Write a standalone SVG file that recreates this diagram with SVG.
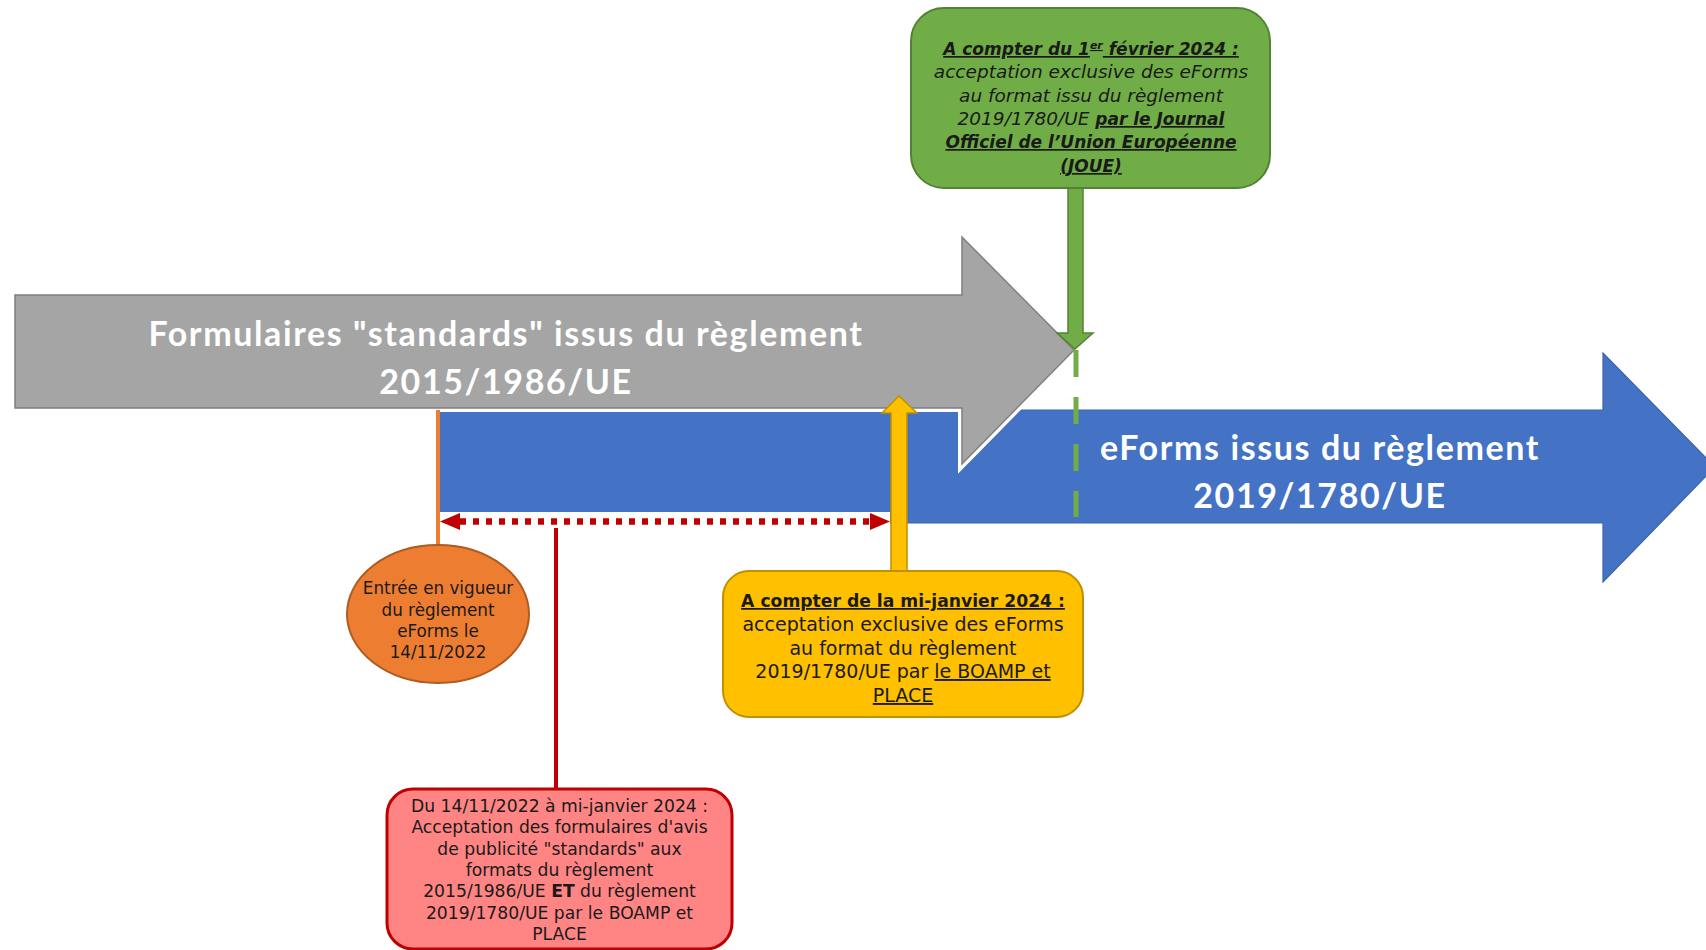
<svg xmlns="http://www.w3.org/2000/svg" width="1706" height="950" viewBox="0 0 1706 950">
<style>
.title{font-family:Lato,"Liberation Sans",sans-serif;font-weight:bold;font-size:34px;letter-spacing:1.6px;fill:#ffffff;text-anchor:middle}
.t{font-family:"DejaVu Sans",sans-serif;fill:#1a1a1a;text-anchor:middle}
.u{text-decoration:underline}
.b{font-weight:bold}
</style>
<rect width="1706" height="950" fill="#ffffff"/>
<g id="blue-arrow">
<polygon points="438,410 1603,410 1603,353 1715,467 1603,582 1603,523 438,523" fill="#4472C4" stroke="#3A64B0" stroke-width="1.2"/>
<rect x="440" y="512" width="450" height="20" fill="#ffffff"/>
<text class="title" x="1320" y="460">eForms issus du règlement</text>
<text class="title" x="1320" y="508">2019/1780/UE</text>
</g>
<g id="gray-arrow">
<polygon points="15,295 962,295 962,237 1074,350 962,464 962,408 15,408" fill="none" stroke="#ffffff" stroke-width="8" stroke-linejoin="miter"/>
<polygon points="15,295 962,295 962,237 1074,350 962,464 962,408 15,408" fill="#A5A5A5" stroke="#7F7F7F" stroke-width="1.5"/>
<text class="title" x="506" y="346">Formulaires "standards" issus du règlement</text>
<text class="title" x="506" y="394">2015/1986/UE</text>
</g>
<g id="connectors">
<line x1="1076" y1="350" x2="1076" y2="517" stroke="#70AD47" stroke-width="5" stroke-dasharray="27 20"/>
<polygon points="1068,188 1068,333 1057,333 1075,349 1093,333 1083,333 1083,188" fill="#70AD47" stroke="#548235" stroke-width="1.5"/>
<polygon points="891,571 891,413 882,413 899,396 917,413 907,413 907,571" fill="#FFC000" stroke="#BF9000" stroke-width="1.5"/>
<line x1="438" y1="410" x2="438" y2="546" stroke="#ED7D31" stroke-width="4"/>
<line x1="460" y1="521.5" x2="870" y2="521.5" stroke="#C00000" stroke-width="6.5" stroke-dasharray="6 7"/>
<polygon points="440,521.5 460,513 460,530" fill="#C00000"/>
<polygon points="890,521.5 870,513 870,530" fill="#C00000"/>
<line x1="556" y1="528" x2="556" y2="790" stroke="#C00000" stroke-width="4"/>
</g>
<g id="orange-node">
<ellipse cx="438" cy="614" rx="91" ry="69" fill="#ED7D31" stroke="#AE5A21" stroke-width="2"/>
<text class="t" font-size="16.8"><tspan x="438" y="594">Entrée en vigueur</tspan><tspan x="438" y="616">du règlement</tspan><tspan x="438" y="637">eForms le</tspan><tspan x="438" y="658">14/11/2022</tspan></text>
</g>
<g id="red-node">
<rect x="387" y="789" width="345" height="160" rx="26" fill="#FF8585" stroke="#C00000" stroke-width="3"/>
<text class="t" font-size="17.2"><tspan x="559.5" y="812">Du 14/11/2022 à mi-janvier 2024 :</tspan><tspan x="559.5" y="833.3">Acceptation des formulaires d'avis</tspan><tspan x="559.5" y="854.6">de publicité "standards" aux</tspan><tspan x="559.5" y="876">formats du règlement</tspan><tspan x="559.5" y="897.3">2015/1986/UE <tspan class="b">ET</tspan> du règlement</tspan><tspan x="559.5" y="918.6">2019/1780/UE par le BOAMP et</tspan><tspan x="559.5" y="940">PLACE</tspan></text>
</g>
<g id="yellow-node">
<rect x="723" y="571" width="360" height="146" rx="26" fill="#FFC000" stroke="#BF9000" stroke-width="2"/>
<text class="t" font-size="19"><tspan x="903" y="607" class="b u" font-size="17.2">A compter de la mi-janvier 2024 :</tspan><tspan x="903" y="631">acceptation exclusive des eForms</tspan><tspan x="903" y="655">au format du règlement</tspan><tspan x="903" y="678">2019/1780/UE par <tspan class="u">le BOAMP et</tspan></tspan><tspan x="903" y="702" class="u">PLACE</tspan></text>
</g>
<g id="green-node">
<rect x="911" y="8" width="359" height="180" rx="33" fill="#70AD47" stroke="#548235" stroke-width="2"/>
<text class="t" font-size="18.5" font-style="italic"><tspan x="1091" y="55" class="b u" font-size="17">A compter du 1<tspan font-size="11" baseline-shift="super">er</tspan> février 2024 :</tspan><tspan x="1091" y="78">acceptation exclusive des eForms</tspan><tspan x="1091" y="102">au format issu du règlement</tspan><tspan x="1091" y="125">2019/1780/UE  <tspan class="b u" font-size="17">par le Journal</tspan></tspan><tspan x="1091" y="148" class="b u" font-size="17">Officiel de l’Union Européenne</tspan><tspan x="1091" y="172" class="b u" font-size="17">(JOUE)</tspan></text>
</g>
</svg>
